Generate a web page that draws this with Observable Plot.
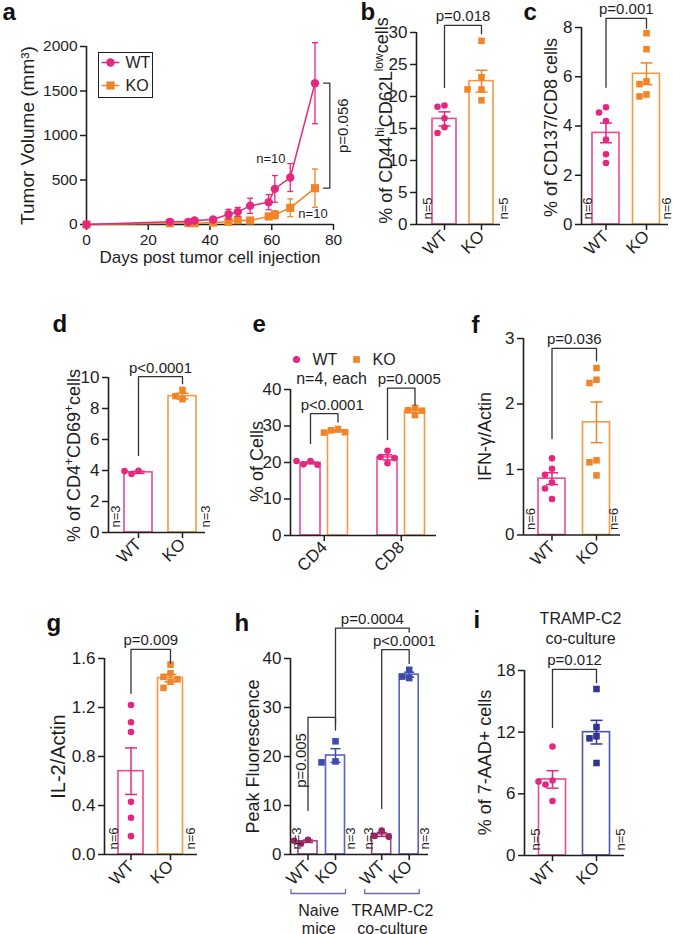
<!DOCTYPE html>
<html><head><meta charset="utf-8">
<script src="https://cdn.jsdelivr.net/npm/d3@7"></script>
<script src="https://cdn.jsdelivr.net/npm/@observablehq/plot@0.6"></script>
<style>
html,body{margin:0;padding:0;background:#fff;}
#fig{position:relative;width:673px;height:934px;overflow:hidden;background:#fff;}
#fig svg{position:absolute;left:0;top:0;overflow:visible;}
</style></head><body><div id="fig"></div>
<script>
// ---------------- DATA ----------------
// a: tumour growth
const aDays   = [0, 27, 33, 35, 41, 46, 49, 53, 59, 61, 66, 74];
const aWTMean = [0, 30, 30, 45, 56, 116, 142, 210, 251, 400, 528, 1588];
const aWTSem  = [0, 15, 10, 12, 15, 55, 50, 85, 85, 150, 157, 455];
const aKOMean = [0, 15, 15, 15, 22, 30, 49, 45, 90, 109, 187, 408];
const aKOSem  = [0, 8, 8, 8, 10, 15, 20, 15, 30, 45, 100, 215];
const aYTicks = [0, 500, 1000, 1500, 2000];
const aXTicks = [0, 20, 40, 60, 80];
const genotypes = ["WT", "KO"];
// b
const bWT = [18.4, 18.6, 16.6, 15.2, 14.3];
const bKO = [28.7, 23.0, 21.1, 21.1, 19.4];
const bMean = [16.5, 22.4], bSem = [1.1, 1.7];
// c
const cWT = [4.76, 4.55, 4.2, 3.45, 2.85, 2.5];
const cKO = [7.77, 7.12, 5.82, 5.70, 5.20, 5.28];
const cMean = [3.72, 6.12], cSem = [0.4, 0.44];
// d
const dWT = [3.77, 3.98, 3.96];
const dKO = [9.2, 8.6, 8.8];
const dMean = [3.88, 8.8], dSem = [0.07, 0.18];
// e
const eCells = ["CD4", "CD8"];
const eWT = [[19.4, 20.4, 19.5, 20.4], [19.8, 21.5, 21.2, 23.2]];
const eKO = [[28.2, 29.2, 28.3, 28.8], [35.0, 33.0, 34.3, 34.2]];
const eWTMean = [19.9, 21.4], eWTSem = [0.27, 0.7];
const eKOMean = [28.6, 34.1], eKOSem = [0.25, 0.4];
// f
const fWT = [1.17, 1.01, 0.92, 0.80, 0.71, 0.55];
const fKO = [2.55, 2.37, 2.32, 1.14, 1.11, 0.91];
const fMean = [0.86, 1.72], fSem = [0.09, 0.31];
// g
const gWT = [1.22, 1.08, 1.0, 0.43, 0.30, 0.15];
const gKO = [1.55, 1.48, 1.45, 1.43, 1.41, 1.36];
const gMean = [0.68, 1.44], gSem = [0.19, 0.03];
// h
const hConditions = ["Naive\nmice", "TRAMP-C2\nco-culture"];
const hWT = [[2.2, 3.0, 2.8], [4.9, 3.6, 3.8]];
const hKO = [[23.1, 18.8, 19.0], [37.7, 36.0, 36.3]];
const hWTMean = [2.7, 4.1], hWTSem = [0.25, 0.4];
const hKOMean = [20.2, 36.7], hKOSem = [1.4, 0.5];
// i
const iWT = [10.6, 7.3, 6.9, 7.2, 5.3];
const iKO = [16.2, 12.5, 11.4, 11.6, 9.0];
const iMean = [7.4, 12.0], iSem = [0.85, 1.15];
// p values / n
const pA = "p=0.056", pB = "p=0.018", pC = "p=0.001", pD = "p<0.0001";
const pE = ["p<0.0001", "p=0.0005"], pF = "p=0.036", pG = "p=0.009";
const pH = ["p=0.005", "p=0.0004", "p<0.0001"], pI = "p=0.012";

// ---------------- STYLE ----------------
const W = 673, H = 934;
const FONT = "'Liberation Sans', Arial, Helvetica, sans-serif";
const INK = "#1e1e1e", BRK = "#333";
const C = {wt:"#e5287f", wtBar:"#ec4a93", ko:"#f08528", koBar:"#f49a45",
  hWT:"#9a2562", hWTBar:"#a9467f", hKO:"#3d4aae", hKOBar:"#5862bf",
  iKO:"#2f3592", iKOBar:"#4a53b2", grp:"#6f6aae"};
const hline = {draw(ctx, size){ const w = Math.sqrt(size/Math.PI); ctx.moveTo(-w,0); ctx.lineTo(w,0); }};
const fig = document.getElementById("fig");

function plotAt(frame, x, y, marks, fs){
  const svg = Plot.plot({
    width: W, height: H,
    marginLeft: frame.L, marginRight: W - frame.R, marginTop: frame.T, marginBottom: H - frame.B,
    x, y, marks,
    style: {background: "transparent", overflow: "visible", fontFamily: FONT, fontSize: (fs || 17) + "px", color: INK}
  });
  d3.select(svg).selectAll('[aria-label="y-axis tick"], [aria-label="x-axis tick"]').attr("stroke-width", 1.5);
  return svg;
}

function dodge(values, pxPerY, r, step){
  const idx = values.map((v,i)=>i).sort((a,b)=>values[b]-values[a]);
  const placed = [], off = values.map(()=>0);
  for (const i of idx){
    const y = values[i]*pxPerY;
    const cands = [0]; for (let k=1;k<6;k++) cands.push(-k*step, k*step);
    for (const c of cands){
      if (placed.every(p => Math.hypot(p.x-c, p.y-y) >= 2*r+0.5)){ off[i]=c; placed.push({x:c,y}); break; }
    }
  }
  return off;
}

function richify(svg, placeholder, parts){
  d3.select(svg).selectAll("text").filter(function(){ return this.textContent === placeholder; }).each(function(){
    const t = d3.select(this); t.text(null);
    let cur = 0;
    for (const p of parts){
      const sh = p.shift || 0;
      const ts = t.append("tspan").text(p.t);
      if (p.size) ts.attr("font-size", p.size);
      if (sh - cur) ts.attr("dy", sh - cur);
      cur = sh;
    }
  });
}

function letterMark(ch, f, lx, ly){
  return Plot.text([ch], {text: d=>d, frameAnchor: "top-left", dx: lx - f.L, dy: ly - f.T,
    textAnchor: "start", lineAnchor: "bottom", fontSize: 24, fontWeight: "bold", fill: "#111"});
}
function titleMark(t, f, tx, ty, size){
  return Plot.text([t], {text: d=>d, frameAnchor: "left", dx: tx - f.L, dy: ty - (f.T+f.B)/2,
    rotate: -90, textAnchor: "middle", lineAnchor: "middle", fontSize: size || 18, fill: INK});
}

function barPanel(cfg){
  const f = cfg.frame, s = cfg.s, ymax = cfg.ymax;
  const pxPerY = (f.B - f.T)/ymax;
  const dom = [(f.L - cfg.x0)/s, (f.R - cfg.x0)/s];
  const marks = [];
  const hw = cfg.barW/2/s;
  for (const g of cfg.groups)
    marks.push(Plot.rectY([g], {x1: d=>d.pos-hw, x2: d=>d.pos+hw, y1: 0, y2: d=>d.mean,
      fill: "white", stroke: g.barColor, strokeWidth: 1.6}));
  marks.push(Plot.ruleY([0], {stroke: INK, strokeWidth: 1.6}));
  marks.push(Plot.ruleX([dom[0]], {y1: 0, y2: ymax, stroke: INK, strokeWidth: 1.6}));
  for (const g of cfg.groups){
    const e = [{x: g.pos, lo: g.mean - g.sem, hi: g.mean + g.sem}];
    marks.push(Plot.ruleX(e, {x: "x", y1: "lo", y2: "hi", stroke: g.color, strokeWidth: 1.5}));
    marks.push(Plot.dot([{x:g.pos, y:g.mean-g.sem}, {x:g.pos, y:g.mean+g.sem}],
      {x: "x", y: "y", symbol: hline, r: cfg.capR || 6, stroke: g.color, strokeWidth: 1.5}));
  }
  for (const g of cfg.groups){
    const sq = g.symbol === "square";
    const off = dodge(g.pts, pxPerY, 3.3, cfg.step || 7);
    const pts = g.pts.map((v,i)=>({x: g.pos + off[i]/s, y: v}));
    marks.push(Plot.dot(pts, {x: "x", y: "y", symbol: g.symbol, r: sq ? 3.7 : 3.3, fill: g.color}));
  }
  for (const b of cfg.brackets){
    const pts = [{x:b.x1,y:b.low1},{x:b.x1,y:b.top},{x:b.x2,y:b.top},{x:b.x2,y:b.low2}];
    marks.push(Plot.line(pts, {x: "x", y: "y", stroke: BRK, strokeWidth: 1.3}));
    if (b.rotate)
      marks.push(Plot.text([b], {x: d=>d.x1 + (d.ldx||0)/s, y: "ly", text: "label", rotate: -90, fontSize: 15, fill: INK}));
    else
      marks.push(Plot.text([b], {x: d=>(d.x1+d.x2)/2 + (d.ldx||0)/s, y: "top", text: "label",
        lineAnchor: "bottom", dy: -4, fontSize: 15, fill: INK}));
  }
  if (cfg.nLabels)
    marks.push(Plot.text(cfg.nLabels.map(n=>({x: n.x + n.dx/s, t: n.t})), {x: "x", y: 0, text: "t",
      rotate: -90, textAnchor: "start", dy: -5, fontSize: 13, fill: INK}));
  marks.push(titleMark(cfg.title, f, cfg.tx, cfg.ty, cfg.tsize));
  marks.push(letterMark(cfg.letter, f, cfg.lx, cfg.ly));
  if (cfg.extra) marks.push(...cfg.extra(f, s, pxPerY));
  const tickMap = new Map(cfg.xticks.map(t=>[t.pos, t.label]));
  const svg = plotAt(f,
    {domain: dom, ticks: cfg.xticks.map(t=>t.pos), tickFormat: d=>tickMap.get(d), tickRotate: -45,
     tickSize: 6, tickPadding: 3, label: null},
    {domain: [0, ymax], ticks: cfg.yticks, tickFormat: cfg.yfmt || (d=>String(d)), tickSize: 6, tickPadding: 3, label: null},
    marks, 17);
  if (cfg.rich) richify(svg, cfg.title, cfg.rich);
  fig.appendChild(svg);
}

function twoGroups(WTpts, KOpts, mean, sem, wtCol, wtBar, koCol, koBar){
  return [
    {pos: 0, mean: mean[0], sem: sem[0], pts: WTpts, color: wtCol, barColor: wtBar, symbol: "circle"},
    {pos: 1, mean: mean[1], sem: sem[1], pts: KOpts, color: koCol, barColor: koBar, symbol: "square"}
  ];
}
const wtkoTicks = genotypes.map((g,i)=>({pos: i, label: g}));

// ---------------- PANEL a ----------------
(function(){
  const f = {L: 86, R: 333, T: 46, B: 224};
  const wt = aDays.map((d,i)=>({day: d, mean: aWTMean[i], sem: aWTSem[i]}));
  const ko = aDays.map((d,i)=>({day: d, mean: aKOMean[i], sem: aKOSem[i]}));
  const marks = [
    Plot.ruleY([0], {stroke: INK, strokeWidth: 1.6}),
    Plot.ruleX([0], {y1: 0, y2: 2000, stroke: INK, strokeWidth: 1.6})
  ];
  for (const [ser, col, sym] of [[ko, C.ko, "square"], [wt, C.wt, "circle"]]){
    const e = ser.filter(d=>d.sem>0);
    marks.push(Plot.line(ser, {x: "day", y: "mean", stroke: col, strokeWidth: 1.5}));
    marks.push(Plot.ruleX(e, {x: "day", y1: d=>Math.max(0, d.mean-d.sem), y2: d=>d.mean+d.sem, stroke: col, strokeWidth: 1.3}));
    marks.push(Plot.dot(e, {x: "day", y: d=>d.mean+d.sem, symbol: hline, r: 3, stroke: col, strokeWidth: 1.3}));
    marks.push(Plot.dot(e.filter(d=>d.mean-d.sem>0), {x: "day", y: d=>d.mean-d.sem, symbol: hline, r: 3, stroke: col, strokeWidth: 1.3}));
    marks.push(Plot.dot(ser, {x: "day", y: "mean", symbol: sym, r: sym === "square" ? 4.6 : 4.2, fill: col}));
  }
  const last = aDays.length - 1, bx = aDays[last] + 4.8, cap = 2;
  const br = [{x: bx-cap, y: aWTMean[last]}, {x: bx, y: aWTMean[last]}, {x: bx, y: aKOMean[last]}, {x: bx-cap, y: aKOMean[last]}];
  marks.push(Plot.line(br, {x: "x", y: "y", stroke: BRK, strokeWidth: 1.3}));
  marks.push(Plot.text([pA], {x: bx, y: (aWTMean[last]+aKOMean[last])/2, text: d=>d, rotate: -90, dx: 13, dy: -10, fontSize: 15, fill: INK}));
  marks.push(Plot.text(["n=10"], {x: aDays[9], y: aWTMean[9], text: d=>d, dx: -4, dy: -30, fontSize: 13, fill: INK}));
  marks.push(Plot.text(["n=10"], {x: aDays[last], y: aKOMean[last], text: d=>d, dx: -2, dy: 26, fontSize: 13, fill: INK}));
  // legend
  marks.push(Plot.frame({stroke: INK, strokeWidth: 1, insetLeft: 12, insetTop: 6, insetRight: 181, insetBottom: 127}));
  const legCols = [C.wt, C.ko], legSym = ["circle", "square"];
  genotypes.forEach((g, k) => {
    const dy = 16 + 23*k;
    marks.push(Plot.dot([g], {frameAnchor: "top-left", dx: 24, dy, symbol: hline, r: 9, stroke: legCols[k], strokeWidth: 1.5}));
    marks.push(Plot.dot([g], {frameAnchor: "top-left", dx: 24, dy, symbol: legSym[k], r: legSym[k] === "square" ? 4.6 : 4.2, fill: legCols[k]}));
    marks.push(Plot.text([g], {frameAnchor: "top-left", dx: 39, dy, text: d=>d, textAnchor: "start", lineAnchor: "middle", fontSize: 16, fill: INK}));
  });
  marks.push(Plot.text(["Days post tumor cell injection"], {frameAnchor: "bottom", dy: 33, text: d=>d, lineAnchor: "middle", fontSize: 17, fill: INK}));
  marks.push(titleMark("Tumor Volume (mm³)", f, 27, 135, 19));
  marks.push(letterMark("a", f, 2, 19));
  fig.appendChild(plotAt(f,
    {domain: [0, 80], ticks: aXTicks, tickFormat: d=>String(d), tickSize: 6, tickPadding: 3, label: null},
    {domain: [0, 2000], ticks: aYTicks, tickFormat: d=>String(d), tickSize: 6, tickPadding: 3, label: null},
    marks, 15.5));
})();

// ---------------- PANEL b ----------------
barPanel({frame: {L: 416, R: 500, T: 32, B: 224}, s: 37, x0: 444, ymax: 30, yticks: [0,5,10,15,20,25,30], barW: 24,
  groups: twoGroups(bWT, bKO, bMean, bSem, C.wt, C.wtBar, C.ko, C.koBar), xticks: wtkoTicks,
  brackets: [{x1: 0, x2: 1, low1: 21.4, top: 31.1, low2: 29.8, label: pB}],
  nLabels: [{x: 0, dx: -17, t: "n=5"}, {x: 1, dx: 22, t: "n=5"}],
  title: "% of CD44hiCD62Llowcells", tx: 386, ty: 120, letter: "b", lx: 360, ly: 19,
  rich: [{t: "% of CD44"}, {t: "hi", size: 12, shift: -8}, {t: "CD62L", shift: 0}, {t: "low", size: 12, shift: -9}, {t: "cells", shift: -4}]});

// ---------------- PANEL c ----------------
barPanel({frame: {L: 581, R: 668, T: 27, B: 224}, s: 40.5, x0: 605.5, ymax: 8, yticks: [0,2,4,6,8], barW: 27,
  groups: twoGroups(cWT, cKO, cMean, cSem, C.wt, C.wtBar, C.ko, C.koBar), xticks: wtkoTicks,
  brackets: [{x1: 0, x2: 1, low1: 5.57, top: 8.37, low2: 7.97, label: pC}],
  nLabels: [{x: 0, dx: -18.5, t: "n=6"}, {x: 1, dx: 20, t: "n=6"}],
  title: "% of CD137/CD8 cells", tx: 551, ty: 127, letter: "c", lx: 523, ly: 19});

// ---------------- PANEL d ----------------
barPanel({frame: {L: 108, R: 205, T: 377, B: 532}, s: 44, x0: 138, ymax: 10, yticks: [0,2,4,6,8,10], barW: 28,
  groups: twoGroups(dWT, dKO, dMean, dSem, C.wt, C.wtBar, C.ko, C.koBar), xticks: wtkoTicks,
  brackets: [{x1: 0, x2: 1, low1: 4.97, top: 10.06, low2: 9.6, label: pD}],
  nLabels: [{x: 0, dx: -23, t: "n=3"}, {x: 1, dx: 23, t: "n=3"}],
  title: "% of CD4+CD69+cells", tx: 74, ty: 455, letter: "d", lx: 52, ly: 331,
  rich: [{t: "% of CD4"}, {t: "+", size: 12, shift: -7}, {t: "CD69", shift: 0}, {t: "+", size: 12, shift: -7}, {t: "cells", shift: 0}]});

// ---------------- PANEL e ----------------
(function(){
  const gap = 2.8;
  const groups = [];
  eCells.forEach((c, k) => {
    groups.push({pos: k*gap, mean: eWTMean[k], sem: eWTSem[k], pts: eWT[k], color: C.wt, barColor: C.wtBar, symbol: "circle"});
    groups.push({pos: k*gap+1, mean: eKOMean[k], sem: eKOSem[k], pts: eKO[k], color: C.ko, barColor: C.koBar, symbol: "square"});
  });
  barPanel({frame: {L: 290, R: 436, T: 389, B: 535}, s: 27.5, x0: 310, ymax: 40, yticks: [0,10,20,30,40], barW: 20, capR: 5,
    groups, xticks: eCells.map((c,k)=>({pos: k*gap+0.5, label: c})),
    brackets: [{x1: 0, x2: 1, low1: 25.2, top: 33.4, low2: 31.1, label: pE[0], ldx: 8},
               {x1: gap, x2: gap+1, low1: 26.3, top: 40.4, low2: 35.7, label: pE[1], ldx: 8}],
    title: "% of Cells", tx: 257, ty: 461, letter: "e", lx: 252, ly: 331,
    extra: (f) => [
      Plot.dot([genotypes[0]], {frameAnchor: "top-left", dx: 6, dy: -30, r: 3.6, fill: C.wt}),
      Plot.text([genotypes[0]], {frameAnchor: "top-left", dx: 22, dy: -30, text: d=>d, textAnchor: "start", lineAnchor: "middle", fontSize: 16, fill: INK}),
      Plot.dot([genotypes[1]], {frameAnchor: "top-left", dx: 66, dy: -30, symbol: "square", r: 3.8, fill: C.ko}),
      Plot.text([genotypes[1]], {frameAnchor: "top-left", dx: 82, dy: -30, text: d=>d, textAnchor: "start", lineAnchor: "middle", fontSize: 16, fill: INK}),
      Plot.text(["n=4, each"], {frameAnchor: "top-left", dx: 41, dy: -11, text: d=>d, textAnchor: "middle", lineAnchor: "middle", fontSize: 16, fill: INK})
    ]});
})();

// ---------------- PANEL f ----------------
barPanel({frame: {L: 523, R: 620, T: 338, B: 534.5}, s: 44.5, x0: 551.5, ymax: 3, yticks: [0,1,2,3], barW: 27,
  groups: twoGroups(fWT, fKO, fMean, fSem, C.wt, C.wtBar, C.ko, C.koBar), xticks: wtkoTicks,
  brackets: [{x1: 0, x2: 1, low1: 1.47, top: 2.85, low2: 2.66, label: pF}],
  nLabels: [{x: 0, dx: -21.5, t: "n=6"}, {x: 1, dx: 17, t: "n=6"}],
  title: "IFN-γ/Actin", tx: 485, ty: 436, letter: "f", lx: 471, ly: 332});

// ---------------- PANEL g ----------------
barPanel({frame: {L: 104, R: 197, T: 658, B: 854}, s: 39.5, x0: 130.5, ymax: 1.6, yticks: [0,0.4,0.8,1.2,1.6], yfmt: d3.format(".1f"), barW: 25,
  groups: twoGroups(gWT, gKO, gMean, gSem, C.wt, C.wtBar, C.ko, C.koBar), xticks: wtkoTicks,
  brackets: [{x1: 0, x2: 1, low1: 1.316, top: 1.674, low2: 1.564, label: pG}],
  nLabels: [{x: 0, dx: -17.5, t: "n=6"}, {x: 1, dx: 20, t: "n=6"}],
  title: "IL-2/Actin", tx: 58, ty: 756, tsize: 20, letter: "g", lx: 46, ly: 630});

// ---------------- PANEL h ----------------
(function(){
  const gap = 2.68;
  const groups = [];
  hConditions.forEach((c, k) => {
    groups.push({pos: k*gap, mean: hWTMean[k], sem: hWTSem[k], pts: hWT[k], color: C.hWT, barColor: C.hWTBar, symbol: "circle"});
    groups.push({pos: k*gap+1, mean: hKOMean[k], sem: hKOSem[k], pts: hKO[k], color: C.hKO, barColor: C.hKOBar, symbol: "square"});
  });
  const xticks = [];
  hConditions.forEach((c,k) => genotypes.forEach((g,j) => xticks.push({pos: k*gap+j, label: g})));
  barPanel({frame: {L: 290, R: 428, T: 658, B: 854}, s: 27.5, x0: 307.5, ymax: 40, yticks: [0,10,20,30,40], barW: 19, capR: 5,
    groups, xticks,
    brackets: [{x1: 0, x2: 1, low1: 9.0, top: 28.0, low2: 25.4, label: pH[0], rotate: true, ldx: -7, ly: 19.2},
               {x1: 1, x2: gap+1, low1: 26.7, top: 46.2, low2: 45.4, label: pH[1]},
               {x1: gap, x2: gap+1, low1: 9.4, top: 41.8, low2: 39.0, label: pH[2], ldx: 9}],
    nLabels: [{x: 0, dx: -11.5, t: "n=3"}, {x: 1, dx: 15, t: "n=3"}, {x: gap, dx: -13, t: "n=3"}, {x: gap+1, dx: 16, t: "n=3"}],
    title: "Peak Fluorescence", tx: 253, ty: 756, letter: "h", lx: 234, ly: 630,
    extra: (f, s, pxPerY) => {
      const u = 1/pxPerY;
      const out = [];
      hConditions.forEach((c, k) => {
        const x1 = k*gap - 17/s, x2 = k*gap + 1 + 10/s;
        const pts = [{x: x1, y: -35*u}, {x: x1, y: -39*u}, {x: x2, y: -39*u}, {x: x2, y: -35*u}];
        out.push(Plot.line(pts, {x: "x", y: "y", stroke: C.grp, strokeWidth: 1.3}));
      });
      out.push(Plot.text(hConditions.map((c,k)=>({c, x: k*gap + 0.5 - 3/s})), {x: "x", y: 0, text: "c", dy: 65,
        lineHeight: 1.12, fontSize: 16, fill: INK}));
      return out;
    }});
})();

// ---------------- PANEL i ----------------
barPanel({frame: {L: 524, R: 624, T: 670, B: 855}, s: 44, x0: 552, ymax: 18, yticks: [0,6,12,18], barW: 27,
  groups: twoGroups(iWT, iKO, iMean, iSem, C.wt, C.wtBar, C.iKO, C.iKOBar), xticks: wtkoTicks,
  brackets: [{x1: 0, x2: 1, low1: 12.45, top: 18.1, low2: 16.8, label: pI}],
  nLabels: [{x: 0, dx: -17, t: "n=5"}, {x: 1, dx: 24, t: "n=5"}],
  title: "% of 7-AAD+ cells", tx: 485, ty: 762, letter: "i", lx: 473, ly: 627,
  extra: () => [Plot.text(["TRAMP-C2\nco-culture"], {frameAnchor: "top", dx: 6, dy: -43, text: d=>d, textAnchor: "middle", lineAnchor: "middle", lineHeight: 1.25, fontSize: 16, fill: INK})]});
</script>
</body></html>
